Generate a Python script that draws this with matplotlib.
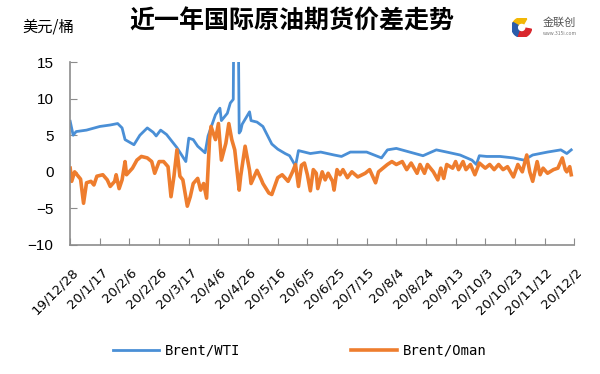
import datetime as dt
import matplotlib
matplotlib.use("Agg")
import matplotlib.pyplot as plt
import matplotlib.transforms as mtransforms
from matplotlib.patches import Wedge

plt.rcParams["font.family"] = ["Noto Sans CJK SC", "DejaVu Sans"]

START = dt.date(2019, 12, 28)

# Brent/WTI spread, USD/bbl: (day offset from 2019-12-28, value)
wti_points = [
    (0, 6.9), (2, 5.0), (4, 5.5), (11, 5.7), (20, 6.2), (27, 6.4), (32, 6.6),
    (35, 6.0), (37, 4.4), (43, 3.7), (47, 5.0), (52, 6.0), (56, 5.4), (58, 4.9),
    (61, 5.7), (65, 5.1), (72, 3.3), (78, 1.4), (80, 4.6), (83, 4.4), (86, 3.5),
    (91, 2.6), (93, 4.9), (98, 7.8), (101, 8.7), (102, 7.0), (106, 8.0),
    (108, 9.4), (110, 9.9), (111, 40.0), (113, 30.0), (114, 5.3), (115, 5.6),
    (116, 6.5), (121, 8.2), (122, 7.0), (126, 6.8), (130, 6.2), (133, 5.0),
    (136, 3.8), (140, 3.1), (145, 2.5), (148, 2.2), (152, 0.8), (154, 2.9),
    (162, 2.5), (169, 2.7), (178, 2.3), (183, 2.1), (189, 2.7), (200, 2.7),
    (210, 1.9), (214, 3.0), (220, 3.2), (229, 2.7), (238, 2.2), (247, 3.0),
    (254, 2.7), (263, 2.3), (271, 1.6), (274, 1.0), (276, 2.2), (281, 2.1),
    (290, 2.1), (299, 1.9), (306, 1.6), (312, 2.3), (322, 2.7), (331, 3.0),
    (335, 2.5), (338, 3.0),
]

# Brent/Oman spread, USD/bbl
oman_points = [
    (0, 0.5), (1, -1.3), (3, 0.0), (7, -1.0), (9, -4.3), (11, -1.5), (14, -1.3),
    (16, -1.8), (18, -0.6), (22, -0.4), (25, -1.1), (27, -2.0), (30, -1.3),
    (31, -0.4), (33, -2.3), (35, -1.1), (37, 1.4), (38, -0.4), (42, 0.5),
    (45, 1.6), (48, 2.1), (52, 1.9), (55, 1.4), (57, -0.2), (60, 1.4), (63, 1.4),
    (66, 0.7), (68, -3.4), (70, -0.6), (72, 3.0), (74, -0.6), (76, -1.1),
    (79, -4.7), (81, -3.4), (83, -1.6), (86, -0.9), (88, -2.5), (90, -1.6),
    (92, -3.6), (94, 4.4), (95, 6.2), (98, 4.4), (100, 6.6), (102, 1.6),
    (105, 3.9), (107, 6.6), (109, 4.4), (111, 3.0), (114, -2.5), (115, -0.6),
    (118, 3.5), (121, 0.2), (122, -1.6), (126, 0.2), (129, -1.1), (130, -1.6),
    (134, -2.9), (136, -3.1), (140, -0.8), (143, -0.4), (147, -1.3), (150, 0.0),
    (152, 1.0), (154, -2.0), (156, 0.9), (158, 1.2), (160, -0.4), (162, -2.6),
    (164, 0.3), (166, -0.2), (167, -2.3), (170, 0.0), (172, -1.1), (174, -0.2),
    (177, -1.3), (178, -2.5), (180, 0.3), (182, -0.4), (184, 0.3), (187, -0.8),
    (190, 0.0), (194, -0.7), (199, -0.2), (202, 0.3), (206, -1.5), (208, 0.0),
    (211, 0.5), (214, 1.0), (217, 1.4), (220, 1.0), (224, 1.4), (227, 0.3),
    (230, 1.2), (234, -0.2), (236, 1.0), (239, -0.2), (241, 1.0), (245, 0.0),
    (248, -1.1), (250, 0.5), (252, -0.9), (254, 1.0), (258, 0.5), (260, 1.4),
    (262, 0.3), (265, 1.4), (267, 0.3), (270, 1.0), (273, -0.4), (276, 1.2),
    (280, 0.5), (283, 1.0), (286, 0.3), (289, 1.0), (292, 0.3), (295, 0.7),
    (299, -0.7), (302, 1.0), (305, 0.0), (308, 2.3), (310, 0.0), (312, -1.3),
    (315, 1.4), (317, -0.4), (319, 0.5), (322, -0.2), (326, 0.3), (329, 0.5),
    (332, 1.9), (334, 0.3), (335, 0.0), (337, 0.7), (338, -0.4),
]

tick_labels = ["19/12/28", "20/1/17", "20/2/6", "20/2/26", "20/3/17", "20/4/6",
               "20/4/26", "20/5/16", "20/6/5", "20/6/25", "20/7/15", "20/8/4",
               "20/8/24", "20/9/13", "20/10/3", "20/10/23", "20/11/12", "20/12/2"]
y_ticks = [-10, -5, 0, 5, 10, 15]

BLUE = "#4a8fd6"
ORANGE = "#ee7d2e"
GREY = "#8c8c8c"


def split(points):
    days, vals = zip(*points)
    return [START + dt.timedelta(days=d) for d in days], list(vals)


fig = plt.figure(figsize=(6.0, 3.74), dpi=100)
ax = fig.add_axes([0.117, 0.345, 0.84, 0.489])

ax.plot(*split(wti_points), color=BLUE, lw=2.0, label="Brent/WTI")
ax.plot(*split(oman_points), color=ORANGE, lw=2.6, label="Brent/Oman")

tick_dates = [START + dt.timedelta(days=20 * i) for i in range(len(tick_labels))]
ax.set_xlim(tick_dates[0], tick_dates[-1])
ax.set_xticks(tick_dates)
ax.set_xticklabels(tick_labels, rotation=45, ha="right", va="top",
                   rotation_mode="anchor", fontsize=9.5, family="DejaVu Sans")
ax.set_ylim(-10, 15)
ax.set_yticks(y_ticks)
ax.set_yticklabels([str(v).replace("-", "\u2212") for v in y_ticks],
                   fontsize=11, family="Liberation Sans")

for side in ("top", "right"):
    ax.spines[side].set_visible(False)
for side in ("left", "bottom"):
    ax.spines[side].set_color(GREY)
    ax.spines[side].set_linewidth(1.2)
ax.tick_params(axis="x", direction="in", length=5, color=GREY, pad=15)
ax.tick_params(axis="y", direction="in", length=5, color=GREY, pad=12)
# nudge the rotated date labels a little so they sit under their ticks
offset = mtransforms.ScaledTranslation(1 / 100, 0, fig.dpi_scale_trans)
for lab in ax.get_xticklabels():
    lab.set_transform(lab.get_transform() + offset)

fig.text(0.487, 0.943, "近一年国际原油期货价差走势", fontsize=18,
         fontweight="bold", ha="center", va="center")
fig.text(0.037, 0.927, "美元/桶", fontsize=11, ha="left", va="center")

# small company mark, top right
lax = fig.add_axes([0.853, 0.9, 0.033, 0.053])
lax.set_xlim(-1, 1); lax.set_ylim(-1, 1); lax.axis("off")
lax.add_patch(Wedge((0, 0), 1, 60, 150, width=0.55, color="#f2b705"))
lax.add_patch(Wedge((0, 0), 1, 150, 250, width=0.55, color="#2a5caa"))
lax.add_patch(Wedge((0, 0), 1, 250, 350, width=0.55, color="#d9262c"))
fig.text(0.905, 0.94, "金联创", fontsize=8, color="#555555", ha="left", va="center")
fig.text(0.905, 0.91, "www.315i.com", fontsize=3.5, color="#777777",
         ha="left", va="center")

fig.legend(loc="center", bbox_to_anchor=(0.5, 0.062), ncol=2, frameon=False,
           prop={"family": "DejaVu Sans Mono", "size": 10},
           columnspacing=8, handlelength=3.3, handletextpad=0.4)

fig.savefig("out.png", dpi=100)
plt.close(fig)
